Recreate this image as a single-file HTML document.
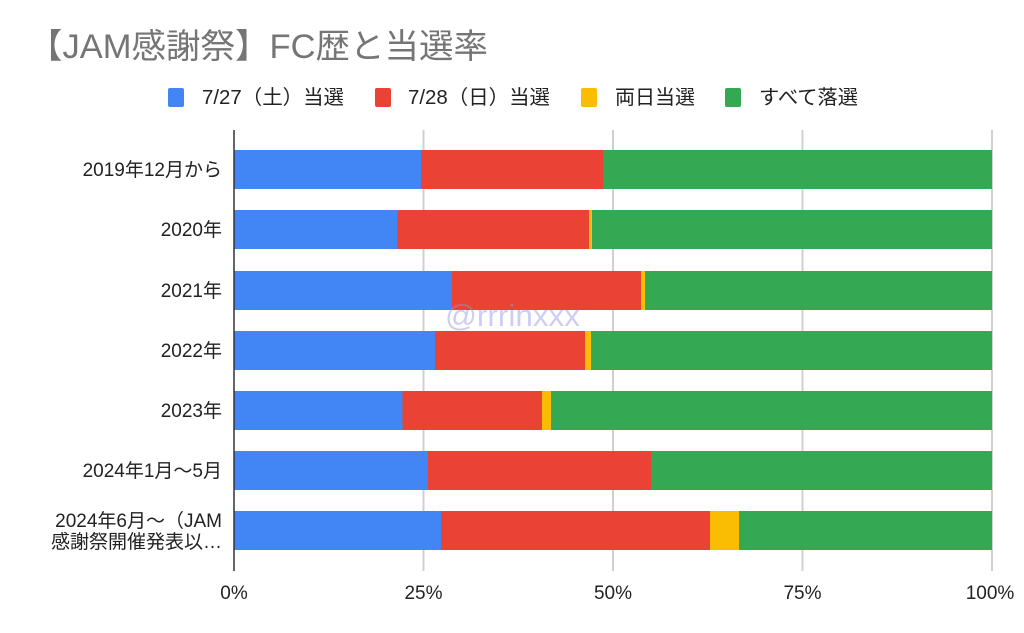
<!DOCTYPE html>
<html><head><meta charset="utf-8"><style>
html,body{margin:0;padding:0;background:#fff;}
svg{display:block;font-family:"Liberation Sans","Noto Sans CJK JP",sans-serif;}
</style></head><body>
<svg width="1024" height="633" viewBox="0 0 1024 633" xmlns="http://www.w3.org/2000/svg">
<rect width="1024" height="633" fill="#fff"/>
<text x="28" y="58" font-size="34" fill="#757575" textLength="460" lengthAdjust="spacingAndGlyphs">【JAM感謝祭】FC歴と当選率</text>
<g font-size="20" fill="#222">
<rect x="168" y="88" width="16" height="19" rx="2" fill="#4285f4"/><text x="202" y="104" textLength="142" lengthAdjust="spacingAndGlyphs">7/27（土）当選</text>
<rect x="375" y="88" width="16" height="19" rx="2" fill="#ea4335"/><text x="408" y="104" textLength="142" lengthAdjust="spacingAndGlyphs">7/28（日）当選</text>
<rect x="581" y="88" width="16" height="19" rx="2" fill="#fbbc04"/><text x="615" y="104" textLength="80" lengthAdjust="spacingAndGlyphs">両日当選</text>
<rect x="725" y="88" width="16" height="19" rx="2" fill="#34a853"/><text x="759" y="104" textLength="99" lengthAdjust="spacingAndGlyphs">すべて落選</text>
</g>
<g stroke="#d0d0d0" stroke-width="2">
<line x1="423.5" y1="130" x2="423.5" y2="571"/>
<line x1="613" y1="130" x2="613" y2="571"/>
<line x1="802.5" y1="130" x2="802.5" y2="571"/>
<line x1="992" y1="130" x2="992" y2="571"/>
</g>
<g>
<rect x="234" y="150" width="758" height="39" fill="#34a853"/>
<rect x="234" y="150" width="369" height="39" fill="#ea4335"/>
<rect x="234" y="150" width="187" height="39" fill="#4285f4"/>
<rect x="234" y="210" width="758" height="39" fill="#34a853"/>
<rect x="234" y="210" width="358" height="39" fill="#fbbc04"/>
<rect x="234" y="210" width="355" height="39" fill="#ea4335"/>
<rect x="234" y="210" width="163.5" height="39" fill="#4285f4"/>
<rect x="234" y="271" width="758" height="39" fill="#34a853"/>
<rect x="234" y="271" width="411" height="39" fill="#fbbc04"/>
<rect x="234" y="271" width="407" height="39" fill="#ea4335"/>
<rect x="234" y="271" width="218" height="39" fill="#4285f4"/>
<rect x="234" y="331" width="758" height="39" fill="#34a853"/>
<rect x="234" y="331" width="357" height="39" fill="#fbbc04"/>
<rect x="234" y="331" width="351" height="39" fill="#ea4335"/>
<rect x="234" y="331" width="201" height="39" fill="#4285f4"/>
<rect x="234" y="391" width="758" height="39" fill="#34a853"/>
<rect x="234" y="391" width="317" height="39" fill="#fbbc04"/>
<rect x="234" y="391" width="308" height="39" fill="#ea4335"/>
<rect x="234" y="391" width="168.5" height="39" fill="#4285f4"/>
<rect x="234" y="451" width="758" height="39" fill="#34a853"/>
<rect x="234" y="451" width="417" height="39" fill="#ea4335"/>
<rect x="234" y="451" width="194" height="39" fill="#4285f4"/>
<rect x="234" y="511" width="758" height="39" fill="#34a853"/>
<rect x="234" y="511" width="505" height="39" fill="#fbbc04"/>
<rect x="234" y="511" width="476" height="39" fill="#ea4335"/>
<rect x="234" y="511" width="207" height="39" fill="#4285f4"/>
</g>
<line x1="234" y1="130" x2="234" y2="571" stroke="#333" stroke-width="1.5"/>
<text x="445" y="326" font-size="31" fill="#8e95e0" fill-opacity="0.45" textLength="135" lengthAdjust="spacingAndGlyphs">@rrrinxxx</text>
<g font-size="19" fill="#222" text-anchor="end">
<text x="222" y="176">2019年12月から</text>
<text x="222" y="236">2020年</text>
<text x="222" y="297">2021年</text>
<text x="222" y="357">2022年</text>
<text x="222" y="417">2023年</text>
<text x="222" y="477">2024年1月〜5月</text>
<text x="222" y="527">2024年6月〜（JAM</text>
<text x="222" y="548">感謝祭開催発表以…</text>
</g>
<g font-size="19" fill="#222" text-anchor="middle">
<text x="234" y="599">0%</text>
<text x="423.5" y="599">25%</text>
<text x="613" y="599">50%</text>
<text x="802.5" y="599">75%</text>
<text x="990" y="599">100%</text>
</g>
</svg>
</body></html>
